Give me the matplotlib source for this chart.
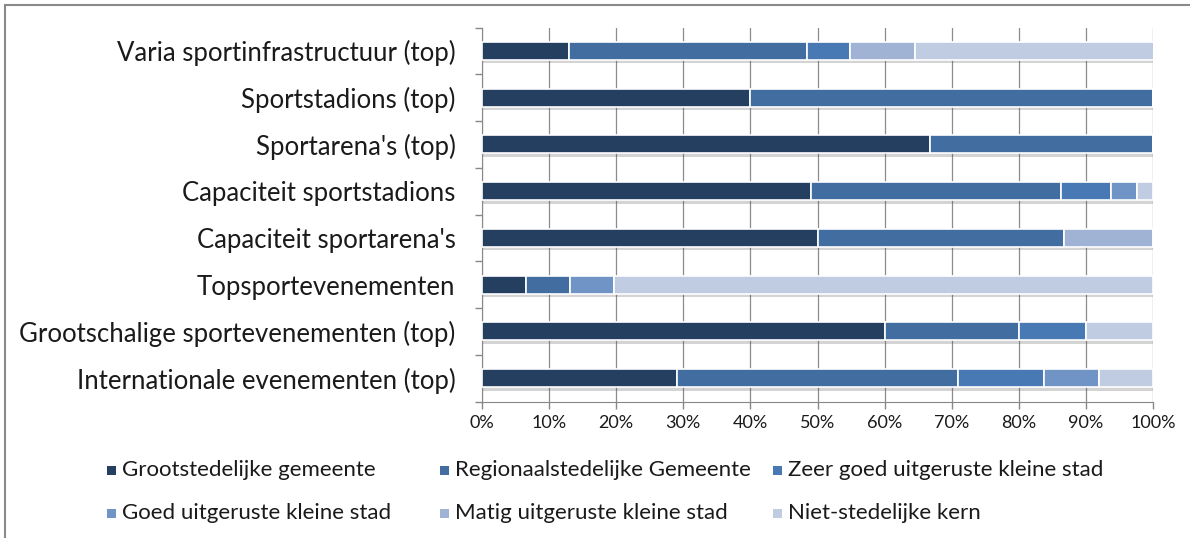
import matplotlib
matplotlib.use("Agg")
import matplotlib.pyplot as plt
import matplotlib.patheffects as pe
from matplotlib.patches import Rectangle
from matplotlib.ticker import FuncFormatter
import numpy as np

plt.rcParams['font.family'] = ['Lato', 'DejaVu Sans']

categories = [
    "Varia sportinfrastructuur (top)",
    "Sportstadions (top)",
    "Sportarena's (top)",
    "Capaciteit sportstadions",
    "Capaciteit sportarena's",
    "Topsportevenementen",
    "Grootschalige sportevenementen (top)",
    "Internationale evenementen (top)",
]

series_names = [
    "Grootstedelijke gemeente",
    "Regionaalstedelijke Gemeente",
    "Zeer goed uitgeruste kleine stad",
    "Goed uitgeruste kleine stad",
    "Matig uitgeruste kleine stad",
    "Niet-stedelijke kern",
]

# shares (%) per category, one list per series
grootstedelijk = [12.9, 40.0, 66.7, 49.1, 50.0, 6.5, 60.0, 29.0]
regionaal = [35.5, 60.0, 33.3, 37.2, 36.7, 6.6, 20.0, 41.9]
zeer_goed = [6.5, 0, 0, 7.5, 0, 0, 10.0, 12.9]
goed = [0, 0, 0, 3.8, 0, 6.6, 0, 8.1]
matig = [9.7, 0, 0, 0, 13.3, 0, 0, 0]
niet_stedelijk = [35.5, 0, 0, 2.4, 0, 80.3, 10.0, 8.1]

series = [grootstedelijk, regionaal, zeer_goed, goed, matig, niet_stedelijk]
colors = ["#253F61", "#426DA0", "#4879B4", "#7094C6", "#A0B3D5", "#C0CCE1"]

W, H = 1190, 538
fig = plt.figure(figsize=(W / 100, H / 100), dpi=100)
ax = fig.add_axes([482 / W, 1 - 401.5 / H, (1153 - 482) / W, 374 / H])

y = np.arange(len(categories))
left = np.zeros(len(categories))
shadow = [pe.SimplePatchShadow(offset=(0.5, -2.5), shadow_rgbFace="#555555", alpha=0.25), pe.Normal()]
for vals, col in zip(series, colors):
    vals = np.array(vals)
    bars = ax.barh(y, vals, left=left, height=0.39, color=col, edgecolor="white", linewidth=1.2, zorder=3)
    for b in bars:
        b.set_path_effects(shadow)
    left += vals

ax.set_xlim(0, 100)
ax.set_ylim(len(categories) - 0.5, -0.5)
ax.set_xticks(np.arange(0, 101, 10))
ax.xaxis.set_major_formatter(FuncFormatter(lambda v, p: f"{v:.0f}%"))
ax.set_yticks(y)
ax.set_yticklabels(categories, fontsize=18.5, color="#1a1a1a")
ax.set_yticks(np.arange(-0.5, len(categories), 1), minor=True)
ax.tick_params(axis="y", which="major", length=0, pad=19)
ax.tick_params(axis="y", which="minor", length=5, color="#888888", width=1)
ax.tick_params(axis="x", length=5, color="#888888", width=1, labelsize=13, labelcolor="#1a1a1a", pad=5)
ax.grid(axis="x", color="#8c8c8c", linewidth=0.9, zorder=0)
for s in ["top", "right"]:
    ax.spines[s].set_visible(False)
for s in ["left", "bottom"]:
    ax.spines[s].set_color("#888888")

# legend laid out like the original (two rows of three)
col_x = [107, 440, 773]
row_y = [470, 513]
for i, (name, col) in enumerate(zip(series_names, colors)):
    cx = col_x[i % 3]
    cy = row_y[i // 3]
    fig.patches.append(Rectangle((cx / W, 1 - (cy + 5) / H), 9 / W, 9 / H, transform=fig.transFigure,
                                 facecolor=col, edgecolor="none"))
    fig.text((cx + 15) / W, 1 - cy / H, name, fontsize=16, color="#1a1a1a", va="center", ha="left")

# chart frame
fig.patches.append(Rectangle((5 / W, -0.2), 1.5, 1.2 - 5 / H, transform=fig.transFigure,
                             facecolor="none", edgecolor="#8a8a8a", linewidth=1.5))

fig.savefig("out.png", dpi=100)
